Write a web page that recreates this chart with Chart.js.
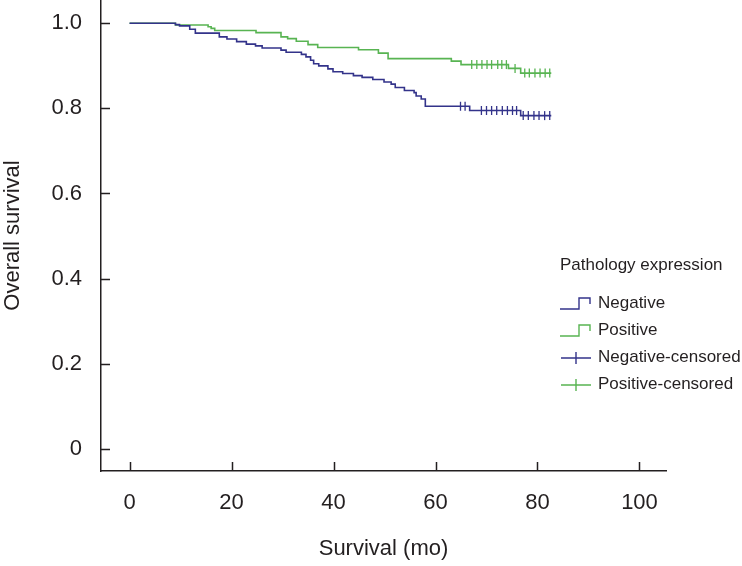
<!DOCTYPE html>
<html>
<head>
<meta charset="utf-8">
<script src="https://cdn.jsdelivr.net/npm/chart.js@4"></script>
<style>
  html, body { margin: 0; padding: 0; background: #fff; }
  #chart { display: block; }
</style>
</head>
<body>
<canvas id="chart" width="742" height="566"></canvas>
<script>
// Kaplan-Meier steps (time in months, survival)
const negTimes = [0, 9.0, 9.8, 11.8, 12.9, 17.6, 19.1, 21.0, 22.9, 24.7, 26.0, 29.7, 30.7, 33.7, 34.6, 35.5, 36.1, 37.1, 38.9, 39.9, 41.8, 43.9, 45.6, 47.7, 49.9, 51.3, 52.1, 53.9, 55.8, 56.2, 57.2, 58.0, 66.7, 76.7, 82.7];
const negSurv = [1.0, 0.997, 0.994, 0.986, 0.977, 0.968, 0.963, 0.957, 0.951, 0.947, 0.942, 0.937, 0.932, 0.927, 0.921, 0.913, 0.905, 0.900, 0.893, 0.886, 0.882, 0.877, 0.873, 0.868, 0.862, 0.857, 0.849, 0.842, 0.837, 0.829, 0.822, 0.805, 0.795, 0.783, 0.783];

const posTimes = [0, 9.0, 15.4, 16.0, 16.7, 24.8, 29.7, 31.0, 32.7, 35.0, 36.9, 44.9, 48.8, 50.7, 63.1, 65.0, 74.3, 76.7, 82.7];
const posSurv = [1.0, 0.996, 0.992, 0.988, 0.983, 0.978, 0.968, 0.964, 0.958, 0.950, 0.943, 0.938, 0.930, 0.917, 0.911, 0.903, 0.894, 0.883, 0.883];

// censored observations
const negCensTimes = [64.9, 65.8, 69.0, 70.0, 71.0, 72.0, 73.1, 74.1, 75.1, 75.9, 77.2, 78.2, 79.3, 80.3, 81.4, 82.4];
const negCensSurv = [0.805, 0.805, 0.795, 0.795, 0.795, 0.795, 0.795, 0.795, 0.795, 0.795, 0.783, 0.783, 0.783, 0.783, 0.783, 0.783];
const posCensTimes = [67.1, 68.1, 69.1, 70.1, 71.0, 72.2, 73.0, 73.9, 75.6, 77.5, 78.4, 79.5, 80.5, 81.5, 82.4];
const posCensSurv = [0.903, 0.903, 0.903, 0.903, 0.903, 0.903, 0.903, 0.903, 0.894, 0.883, 0.883, 0.883, 0.883, 0.883, 0.883];

const xTicks = [0, 20, 40, 60, 80, 100];
const yTicks = [0, 0.2, 0.4, 0.6, 0.8, 1.0];
const legendTitle = 'Pathology expression';
const seriesNames = ['Negative', 'Positive', 'Negative-censored', 'Positive-censored'];

const NAVY = '#33338a';
const GREEN = '#58b452';
const INK = '#231f20';
const FONT = "'Liberation Sans', Arial, sans-serif";

const toPoints = (xs, ys) => xs.map((x, i) => ({ x: x, y: ys[i] }));

// inward tick marks, like the SPSS style axes
const innerTicks = {
    id: 'innerTicks',
    afterDraw(chart) {
        const ctx = chart.ctx;
        const area = chart.chartArea;
        const xs = chart.scales.x;
        const ys = chart.scales.y;
        ctx.save();
        ctx.strokeStyle = INK;
        ctx.lineWidth = 1.5;
        ctx.beginPath();
        xTicks.forEach(v => {
            const px = Math.round(xs.getPixelForValue(v)) + 0.5;
            ctx.moveTo(px, area.bottom);
            ctx.lineTo(px, area.bottom - 9);
        });
        yTicks.forEach(v => {
            const py = Math.round(ys.getPixelForValue(v)) + 0.5;
            ctx.moveTo(area.left, py);
            ctx.lineTo(area.left + 9, py);
        });
        ctx.stroke();
        ctx.restore();
    }
};

// legend drawn inside the plot, right side
const kmLegend = {
    id: 'kmLegend',
    afterDraw(chart) {
        const ctx = chart.ctx;
        const x0 = 560, textX = 598;
        const rows = [303, 330, 357, 384];
        ctx.save();
        ctx.fillStyle = INK;
        ctx.font = '17px ' + FONT;
        ctx.textBaseline = 'middle';
        ctx.textAlign = 'left';
        ctx.fillText(legendTitle, x0, 265);
        chart.data.datasets.forEach((ds, i) => {
            const y = rows[i];
            ctx.strokeStyle = ds.borderColor;
            ctx.lineWidth = 1.4;
            ctx.beginPath();
            if (i < 2) {
                ctx.moveTo(x0, y + 6);
                ctx.lineTo(x0 + 19, y + 6);
                ctx.lineTo(x0 + 19, y - 5);
                ctx.lineTo(x0 + 30, y - 5);
                ctx.lineTo(x0 + 30, y + 1);
            } else {
                ctx.moveTo(x0 + 1, y + 1);
                ctx.lineTo(x0 + 31, y + 1);
                ctx.moveTo(x0 + 16, y - 5);
                ctx.lineTo(x0 + 16, y + 7);
            }
            ctx.stroke();
            ctx.fillStyle = INK;
            ctx.fillText(ds.label, textX, y);
        });
        ctx.restore();
    }
};

const stepLine = (label, pts, color) => ({
    label: label,
    data: pts,
    borderColor: color,
    backgroundColor: color,
    borderWidth: 1.6,
    stepped: 'before',
    pointRadius: 0,
    fill: false,
    showLine: true
});

const censor = (label, pts, color) => ({
    label: label,
    data: pts,
    borderColor: color,
    backgroundColor: color,
    borderWidth: 1.3,
    showLine: false,
    pointStyle: 'line',
    rotation: 90,
    pointRadius: 4.5
});

const ctx = document.getElementById('chart').getContext('2d');

new Chart(ctx, {
    type: 'scatter',
    data: {
        datasets: [
            stepLine(seriesNames[0], toPoints(negTimes, negSurv), NAVY),
            stepLine(seriesNames[1], toPoints(posTimes, posSurv), GREEN),
            censor(seriesNames[2], toPoints(negCensTimes, negCensSurv), NAVY),
            censor(seriesNames[3], toPoints(posCensTimes, posCensSurv), GREEN)
        ]
    },
    options: {
        responsive: false,
        animation: false,
        events: [],
        layout: { autoPadding: false, padding: { left: 0, top: 0, right: 76, bottom: 0 } },
        plugins: {
            legend: { display: false },
            tooltip: { enabled: false }
        },
        scales: {
            x: {
                type: 'linear',
                min: -5.6,
                max: 105.2,
                afterBuildTicks: s => { s.ticks = xTicks.map(v => ({ value: v })); },
                afterFit: s => { s.height = 95; s.paddingLeft = 0; s.paddingRight = 0; },
                grid: { display: false, drawTicks: false },
                border: { display: true, color: INK, width: 1.5 },
                ticks: {
                    padding: 19,
                    color: INK,
                    font: { family: FONT, size: 22 },
                    maxRotation: 0,
                    callback: v => String(v)
                },
                title: {
                    display: true,
                    text: 'Survival (mo)',
                    color: INK,
                    font: { family: FONT, size: 22 },
                    padding: { top: 0, bottom: 4 }
                }
            },
            y: {
                type: 'linear',
                min: -0.0524,
                max: 1.0548,
                afterBuildTicks: s => { s.ticks = yTicks.map(v => ({ value: v })); },
                afterFit: s => { s.width = 101; s.paddingTop = 0; s.paddingBottom = 0; },
                grid: { display: false, drawTicks: false },
                border: { display: true, color: INK, width: 1.5 },
                ticks: {
                    padding: 19,
                    color: INK,
                    font: { family: FONT, size: 22 },
                    callback: v => (v === 0 ? '0' : v.toFixed(1))
                },
                title: {
                    display: true,
                    text: 'Overall survival',
                    color: INK,
                    font: { family: FONT, size: 22 },
                    padding: { top: 0, bottom: 0 }
                }
            }
        }
    },
    plugins: [innerTicks, kmLegend]
});
</script>
</body>
</html>
